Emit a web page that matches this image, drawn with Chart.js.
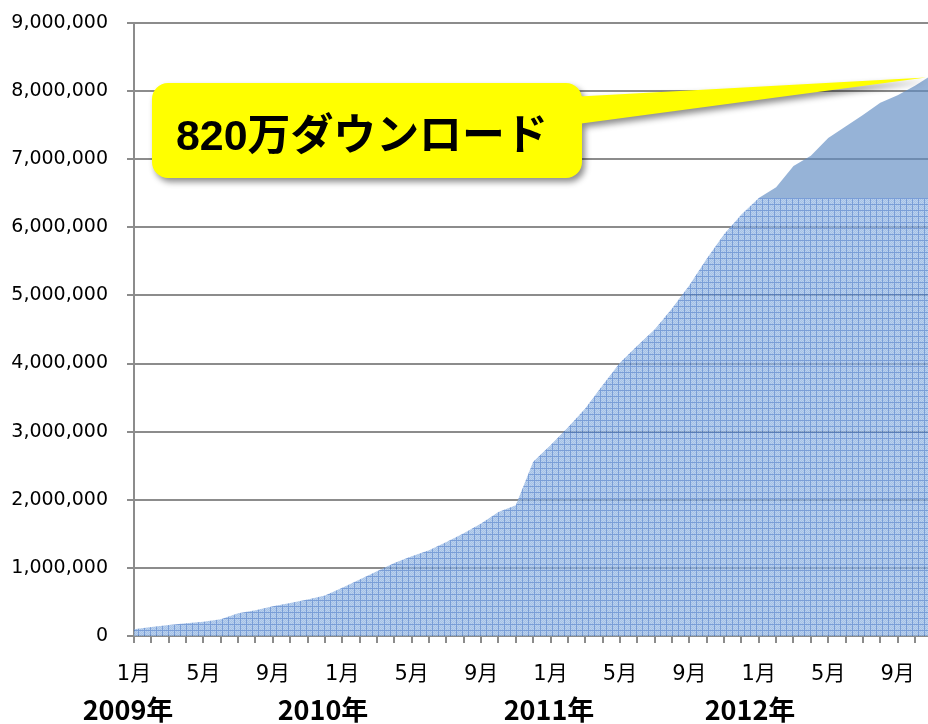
<!DOCTYPE html>
<html><head><meta charset="utf-8">
<script src="https://cdn.jsdelivr.net/npm/chart.js@4/dist/chart.umd.min.js"></script>
<style>html,body{margin:0;padding:0;background:#fff;overflow:hidden}#wrap{width:928px;height:724px;position:relative}</style>
</head><body><div id="wrap"><canvas id="c" width="928" height="724"></canvas></div>
<script>
// ---- data ----
const months = [
  '1月','2月','3月','4月','5月','6月','7月','8月','9月','10月','11月','12月',
  '1月','2月','3月','4月','5月','6月','7月','8月','9月','10月','11月','12月',
  '1月','2月','3月','4月','5月','6月','7月','8月','9月','10月','11月','12月',
  '1月','2月','3月','4月','5月','6月','7月','8月','9月','10月','11月'
];
const downloads = [
  98000, 132000, 162000, 186000, 211000, 245000, 333000, 377000, 435000, 485000, 535000, 596000,
  710000, 830000, 950000, 1070000, 1170000, 1260000, 1380000, 1510000, 1650000, 1820000, 1920000, 2560000,
  2800000, 3060000, 3340000, 3680000, 4010000, 4260000, 4500000, 4810000, 5150000, 5540000, 5900000, 6190000,
  6430000, 6590000, 6900000, 7050000, 7310000, 7480000, 7650000, 7830000, 7940000, 8080000, 8240000
];
const patternDownloads = [
  98000, 132000, 162000, 186000, 211000, 245000, 333000, 377000, 435000, 485000, 535000, 596000,
  710000, 830000, 950000, 1070000, 1170000, 1260000, 1380000, 1510000, 1650000, 1820000, 1920000, 2560000,
  2800000, 3060000, 3340000, 3680000, 4010000, 4260000, 4500000, 4810000, 5150000, 5540000, 5900000, 6190000,
  6430000, 6430000, 6430000, 6430000, 6430000, 6430000, 6430000, 6430000, 6430000, 6430000, 6430000
];
const yearLabels = ['2009年', '2010年', '2011年', '2012年'];
const calloutText = '820万ダウンロード';
const calloutValue = 8200000;

// ---- pattern fill ----
const tile = document.createElement('canvas');
tile.width = 6; tile.height = 6;
const tc = tile.getContext('2d');
for (let y = 0; y < 6; y++) {
  for (let x = 0; x < 6; x++) {
    let col;
    if (x === 0 || y === 0) col = 'rgba(70,120,200,0.72)';
    else col = ((x + y) % 2) ? 'rgba(130,168,220,0.72)' : 'rgba(160,192,232,0.72)';
    tc.fillStyle = col; tc.fillRect(x, y, 1, 1);
  }
}
const canvas = document.getElementById('c');
const pattern = canvas.getContext('2d').createPattern(tile, 'repeat');

const overlay = {
  id: 'overlay',
  afterDraw(chart, args, opts) {
    const c = chart.ctx, ys = chart.scales.y, area = chart.chartArea;
    const tipX = area.right - 2, tipY = ys.getPixelForValue(calloutValue);
    const b = opts.box;
    c.save();
    c.shadowColor = 'rgba(0,0,0,0.45)'; c.shadowBlur = 6; c.shadowOffsetX = 3; c.shadowOffsetY = 4;
    c.fillStyle = '#ffff00';
    c.beginPath();
    c.roundRect(b.x, b.y, b.w, b.h, b.r);
    c.moveTo(b.x + b.w - 12, b.y + 14);
    c.lineTo(tipX, tipY);
    c.lineTo(b.x + b.w - 12, b.y + 42);
    c.closePath();
    c.fill();
    c.restore();

    c.save();
    c.fillStyle = '#000';
    c.font = 'bold 48px "Liberation Sans", "Noto Sans CJK JP"';
    const w = c.measureText(calloutText).width;
    const size = 48 * opts.textWidth / w;
    c.font = 'bold ' + size.toFixed(1) + 'px "Liberation Sans", "Noto Sans CJK JP"';
    c.textBaseline = 'alphabetic';
    c.textAlign = 'left';
    c.fillText(calloutText, opts.textX, opts.textBaseline);

    c.font = 'bold 27px "Noto Sans CJK JP"';
    c.textAlign = 'center';
    c.textBaseline = 'middle';
    yearLabels.forEach((t, i) => c.fillText(t, opts.yearX[i], opts.yearY));
    c.restore();
  }
};

new Chart(canvas, {
  type: 'line',
  data: {
    datasets: [
      { data: patternDownloads.map((v, i) => ({ x: i, y: v })), fill: 'origin', backgroundColor: pattern,
        borderColor: 'rgba(0,0,0,0)', borderWidth: 0, pointRadius: 0, tension: 0 },
      { data: downloads.map((v, i) => ({ x: i, y: v })), fill: '-1', backgroundColor: 'rgba(95,140,195,0.66)',
        borderColor: 'rgba(0,0,0,0)', borderWidth: 0, pointRadius: 0, tension: 0 }
    ]
  },
  options: {
    responsive: false, animation: false, events: [],
    layout: { padding: { top: 23, right: 0, bottom: 0, left: 0 } },
    plugins: {
      legend: { display: false }, tooltip: { enabled: false },
      overlay: { box: { x: 152, y: 83, w: 430, h: 95, r: 16 }, textX: 176, textBaseline: 150, textWidth: 372,
                 yearX: [128, 323, 549, 750], yearY: 710 }
    },
    scales: {
      x: {
        type: 'linear', min: 0, max: 45.75,
        afterFit(s) { s.height = 88; s.paddingLeft = 0; s.paddingRight = 0; },
        ticks: {
          stepSize: 1, autoSkip: false, includeBounds: false, maxRotation: 0, padding: 19, color: '#000',
          font: { family: '"DejaVu Sans", "Noto Sans CJK JP"', size: 21 },
          callback: (v) => (Number.isInteger(v) && v % 4 === 0) ? months[v] : ''
        },
        grid: { drawOnChartArea: false, drawTicks: true, tickLength: 7, color: '#8c8c8c', lineWidth: 2 },
        border: { color: '#8c8c8c', width: 2 }
      },
      y: {
        min: 0, max: 9000000,
        afterFit(s) { s.width = 134; s.paddingTop = 0; s.paddingBottom = 0; },
        ticks: {
          stepSize: 1000000, padding: 19, color: '#000',
          font: { family: '"DejaVu Sans"', size: 19 },
          callback: (v) => v.toLocaleString('en-US')
        },
        grid: { color: '#8c8c8c', lineWidth: 2, tickLength: 7 },
        border: { color: '#8c8c8c', width: 2 }
      }
    }
  },
  plugins: [overlay]
});
</script></body></html>
